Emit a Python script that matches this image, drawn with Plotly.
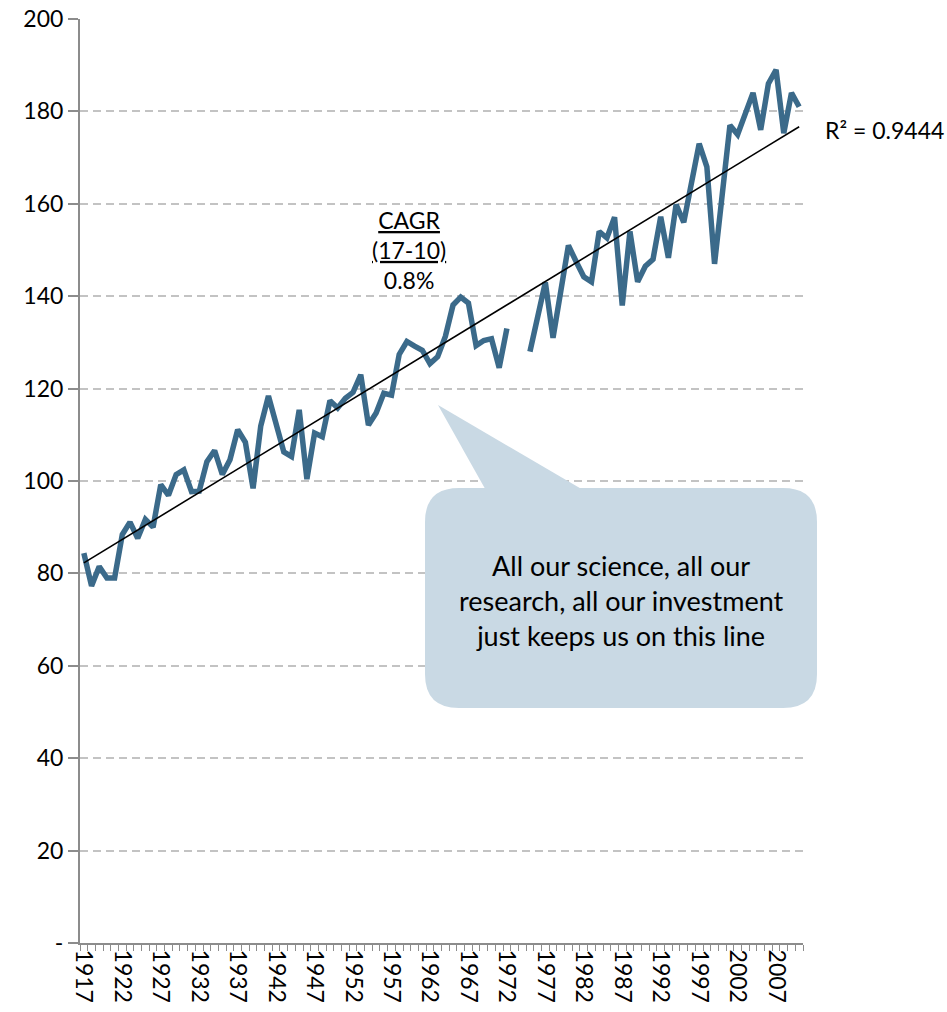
import numpy as np
import plotly.graph_objects as go

# Annual values, 1917-2010 (1973 and 1974 not recorded)
years = list(range(1917, 2011))
values = [
    84.4, 77.3, 81.5, 79.0, 79.0, 88.4, 91.1, 87.6, 91.7, 90.0,      # 1917-1926
    99.2, 96.9, 101.4, 102.4, 97.7, 97.8, 104.2, 106.6, 101.4, 104.6,  # 1927-1936
    111.1, 108.4, 98.4, 111.9, 118.4, 112.3, 106.3, 105.3, 115.4, 100.4,  # 1937-1946
    110.4, 109.6, 117.4, 115.8, 117.9, 119.2, 123.0, 112.1, 114.7, 119.0,  # 1947-1956
    118.6, 127.4, 130.2, 129.2, 128.3, 125.4, 126.9, 131.3, 138.1, 139.8,  # 1957-1966
    138.5, 129.3, 130.4, 130.8, 124.5, 133.0, None, None, 128.0, 136.0,    # 1967-1976
    143.0, 131.0, 141.5, 151.0, 147.5, 144.2, 143.1, 154.0, 152.6, 157.1,  # 1977-1986
    138.0, 154.0, 143.1, 146.5, 148.0, 157.2, 148.3, 159.8, 156.0, 164.0,  # 1987-1996
    173.0, 168.0, 147.0, 162.0, 177.0, 175.0, 179.5, 184.0, 176.0, 186.0,  # 1997-2006
    189.0, 175.3, 184.0, 181.0,                                           # 2007-2010
]

label_years = list(range(1917, 2010, 5))
y_ticks = list(range(0, 201, 20))
y_tick_text = ["-"] + [str(v) for v in y_ticks[1:]]

r2_text = "R² = 0.9444"
cagr_text = "<u>CAGR</u><br><u>(17-10)</u><br>0.8%"
callout_text = "All our science, all our<br>research, all our investment<br>just keeps us on this line"

LINE_COLOR = "#3b6a8a"
BOX_COLOR = "#c9d9e4"
FONT = "Lato"

W, H = 947, 1012
M_L, M_R, M_T, M_B = 80, 144, 19, 69
PLOT_W = W - M_L - M_R
PLOT_H = H - M_T - M_B


def px(xp):
    """Page pixel column -> paper x."""
    return (xp - M_L) / PLOT_W


def py(yp):
    """Page pixel row -> paper y."""
    return (H - M_B - yp) / PLOT_H


# Linear trend fitted over the recorded years
yr = np.array([y for y, v in zip(years, values) if v is not None], dtype=float)
vv = np.array([v for v in values if v is not None], dtype=float)
slope, intercept = np.polyfit(yr, vv, 1)
trend = [slope * y + intercept for y in years]

fig = go.Figure()
fig.add_trace(go.Scatter(
    x=years, y=values, mode="lines",
    line=dict(color=LINE_COLOR, width=5.5, shape="linear"),
    connectgaps=False, hoverinfo="x+y", showlegend=False,
))
fig.add_trace(go.Scatter(
    x=years, y=trend, mode="lines",
    line=dict(color="black", width=1.6),
    hoverinfo="skip", showlegend=False,
))


def rounded_rect(l, r, t, b, rad):
    x0, x1 = px(l), px(r)
    y0, y1 = py(b), py(t)
    rx, ry = rad / PLOT_W, rad / PLOT_H
    return (f"M {x0 + rx},{y1} L {x1 - rx},{y1} Q {x1},{y1} {x1},{y1 - ry} "
            f"L {x1},{y0 + ry} Q {x1},{y0} {x1 - rx},{y0} "
            f"L {x0 + rx},{y0} Q {x0},{y0} {x0},{y0 + ry} "
            f"L {x0},{y1 - ry} Q {x0},{y1} {x0 + rx},{y1} Z")


# Speech-bubble callout: pointer plus rounded box
pointer = [(438, 405), (590, 494), (488, 494)]
fig.add_shape(type="path", xref="paper", yref="paper", layer="above",
              path="M " + " L ".join(f"{px(a)},{py(b)}" for a, b in pointer) + " Z",
              fillcolor=BOX_COLOR, line=dict(width=0))
fig.add_shape(type="path", xref="paper", yref="paper", layer="above",
              path=rounded_rect(425, 817, 488, 708, 34),
              fillcolor=BOX_COLOR, line=dict(width=0))

fig.add_annotation(x=px(621), y=py(600), xref="paper", yref="paper", text=callout_text,
                   xanchor="center", yanchor="middle",
                   showarrow=False, font=dict(family=FONT, size=27, color="black"),
                   align="center")
fig.add_annotation(x=px(409), y=py(250), xref="paper", yref="paper", text=cagr_text,
                   xanchor="center", yanchor="middle",
                   showarrow=False, font=dict(family=FONT, size=23, color="black"),
                   align="center")
fig.add_annotation(x=px(823), y=py(130), xref="paper", yref="paper", text=r2_text,
                   showarrow=False, xanchor="left", yanchor="middle",
                   font=dict(family=FONT, size=23, color="black"))

fig.update_layout(
    width=W, height=H,
    margin=dict(l=M_L, r=M_R, t=M_T, b=M_B, autoexpand=False),
    paper_bgcolor="white", plot_bgcolor="white",
    font=dict(family=FONT, size=23, color="black"),
    xaxis=dict(
        range=[1916.5, 2010.5], showgrid=False, zeroline=False, automargin=False,
        tickmode="array", tickvals=label_years,
        ticktext=[str(y) for y in label_years],
        tickangle=90, ticks="",
        showline=True, linecolor="#8c8c8c", linewidth=2,
        minor=dict(ticks="outside", tick0=1916.5, dtick=1, ticklen=6,
                   tickcolor="#8c8c8c", tickwidth=1, showgrid=False),
        tickfont=dict(family=FONT, size=23),
    ),
    yaxis=dict(
        range=[0, 200], tickmode="array", tickvals=y_ticks, ticktext=y_tick_text,
        automargin=False,
        ticks="outside", ticklen=10, tickcolor="#8c8c8c", tickwidth=1.5,
        showline=True, linecolor="#8c8c8c", linewidth=2,
        showgrid=True, gridcolor="#c3c3c3", gridwidth=1.6, griddash="8px,5px",
        zeroline=False, tickfont=dict(family=FONT, size=23),
    ),
)

fig.write_html("out.html")
